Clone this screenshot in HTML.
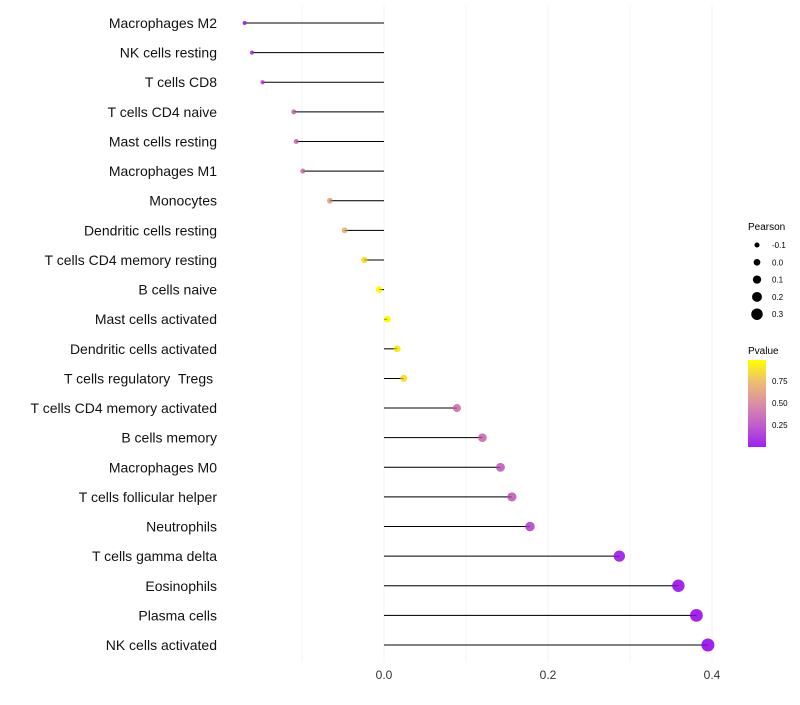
<!DOCTYPE html>
<html><head><meta charset="utf-8"><style>
body{margin:0;background:#fff;font-family:"Liberation Sans",sans-serif}
text{white-space:pre}
</style></head><body>
<svg id="chart" width="800" height="700" xmlns="http://www.w3.org/2000/svg" font-family="Liberation Sans, sans-serif">
<defs><linearGradient id="pg" x1="0" y1="1" x2="0" y2="0">
<stop offset="0" stop-color="#A020F0"/><stop offset="0.25" stop-color="#BF5DCB"/><stop offset="0.5" stop-color="#D98FA5"/><stop offset="0.75" stop-color="#EEBD72"/><stop offset="1" stop-color="#FFFF00"/></linearGradient></defs>
<g id="grid"></g>
<g id="marks"></g>
<g id="labels"></g>
<g id="xt"></g>
<g id="lp">
<text x="748" y="230" font-size="10" fill="#000">Pearson</text></g>
<g>
<text x="748" y="354" font-size="10" fill="#000">Pvalue</text>
<rect x="748" y="360" width="18" height="87" fill="url(#pg)"/>
<text x="772" y="384" font-size="8">0.75</text>
<text x="772" y="406" font-size="8">0.50</text>
<text x="772" y="428" font-size="8">0.25</text>
</g>
</svg>
<script>
const categories=["Macrophages M2","NK cells resting","T cells CD8","T cells CD4 naive","Mast cells resting","Macrophages M1","Monocytes","Dendritic cells resting","T cells CD4 memory resting","B cells naive","Mast cells activated","Dendritic cells activated","T cells regulatory  Tregs ","T cells CD4 memory activated","B cells memory","Macrophages M0","T cells follicular helper","Neutrophils","T cells gamma delta","Eosinophils","Plasma cells","NK cells activated"];
const pearson=[-0.170,-0.161,-0.148,-0.110,-0.107,-0.099,-0.066,-0.048,-0.024,-0.006,0.004,0.016,0.024,0.089,0.120,0.142,0.156,0.178,0.287,0.359,0.381,0.395];
const pvalue=[0.08,0.15,0.22,0.38,0.38,0.42,0.62,0.7,0.88,0.98,0.99,0.92,0.88,0.42,0.38,0.33,0.32,0.22,0.06,0.03,0.02,0.01];
const xTicks=[0,0.2,0.4];
const gridVals=[-0.1,0,0.1,0.2,0.3,0.4];
const legendSizes=[-0.1,0,0.1,0.2,0.3];
const NS="http://www.w3.org/2000/svg";
const x=v=>384+v*820;
const y=i=>23+i*29.62;
const r=v=>3.35+8*v;
const stops=[[0,[160,32,240]],[0.25,[191,93,203]],[0.5,[217,143,165]],[0.75,[238,189,114]],[1,[255,255,0]]];
function col(p){for(let k=1;k<stops.length;k++){if(p<=stops[k][0]){const a=stops[k-1],b=stops[k],t=(p-a[0])/(b[0]-a[0]);return `rgb(${a[1].map((c,j)=>Math.round(c+(b[1][j]-c)*t)).join(',')})`;}}return 'rgb(255,255,0)';}
function mk(tag,at,parent){const e=document.createElementNS(NS,tag);for(const k in at)e.setAttribute(k,at[k]);document.getElementById(parent).appendChild(e);return e;}
gridVals.forEach(g=>{const l=mk('line',{x1:x(g),x2:x(g),y1:5,y2:662,stroke:'#f0f0f0','stroke-width':0.8},'grid');

});
xTicks.forEach(t=>{const e=mk('text',{x:x(t),y:679,'font-size':12,'text-anchor':'middle',fill:'#333'},'xt');e.textContent=t.toFixed(1);

});
categories.forEach((c,i)=>{
const t=mk('text',{x:217,y:y(i)+5,'font-size':14,'text-anchor':'end',fill:'#111'},'labels');t.textContent=c;


const l=mk('line',{x1:x(0),x2:x(pearson[i]),y1:y(i),y2:y(i),stroke:'#000','stroke-width':1},'marks');


const d=mk('circle',{cx:x(pearson[i]),cy:y(i),r:Math.max(1.2,r(pearson[i])),fill:col(pvalue[i])},'marks');


const l2=mk('line',{x1:x(0),x2:x(pearson[i]),y1:y(i),y2:y(i),stroke:'#000','stroke-width':0.6,opacity:0.6},'marks');


});
legendSizes.forEach((s,i)=>{const cy=245+i*17.3;
const c=mk('circle',{cx:757,cy:cy,r:r(s),fill:'#000'},'lp');


const t=mk('text',{x:772,y:cy+3,'font-size':8},'lp');t.textContent=s.toFixed(1);

});
</script>
</body></html>
